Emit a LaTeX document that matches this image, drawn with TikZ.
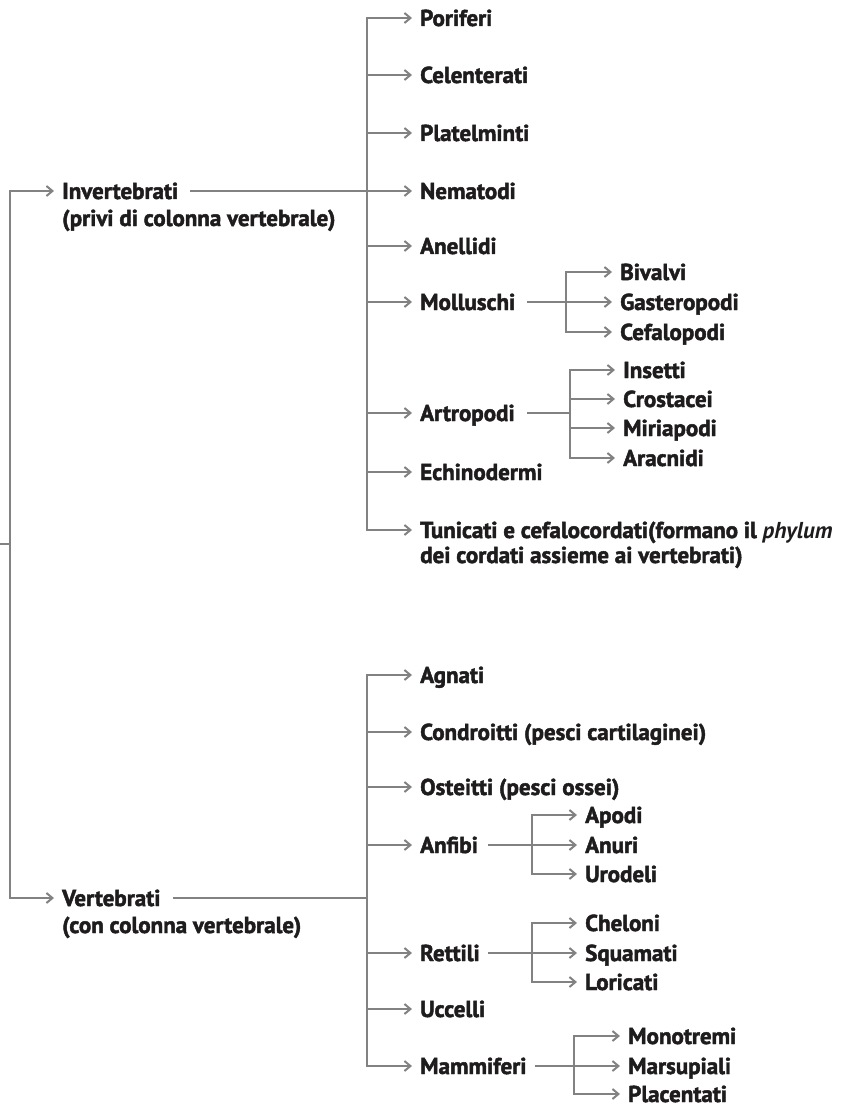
\documentclass[tikz,border=0pt]{standalone}
\usepackage{fontspec}
\setmainfont[BoldFeatures={FakeBold=2}]{PT Sans}
\usetikzlibrary{arrows.meta, positioning}
\definecolor{linkgray}{RGB}{130, 130, 130}
\definecolor{labelink}{RGB}{30, 28, 28}

\begin{document}
\begin{tikzpicture}[x=1pt, y=-1pt,
  taxon/.style={anchor=west, inner sep=0pt, text=labelink, font=\fontsize{23}{28}\selectfont\bfseries, text height=16pt, text depth=0pt},
  branch/.style={draw=linkgray, line width=2.8pt},
  trunk/.style={branch, line cap=rect},
  twig/.style={branch, -{Straight Barb[length=6pt, width=10pt, line width=2pt]}, shorten >=8pt}
]
  \useasboundingbox (0, 0) rectangle (841, 1115);

  % trunk positions
  \coordinate (root) at (0, 544);
  \coordinate (tL) at (10, 0);
  \coordinate (tI) at (367, 0);
  \coordinate (tV) at (367, 0);
  \coordinate (tMol) at (566, 0);
  \coordinate (tArt) at (570, 0);
  \coordinate (tAnf) at (532, 0);
  \coordinate (tRet) at (532, 0);
  \coordinate (tMam) at (574, 0);

  % Invertebrati
  \node[taxon] (inv) at (62, 191) {Invertebrati};
  \node[taxon] (invnote) at (62, 218) {(privi di colonna vertebrale)};
  \node[taxon] (por) at (420, 18) {Poriferi};
  \node[taxon] (cel) at (420, 75) {Celenterati};
  \node[taxon] (pla) at (420, 133) {Platelminti};
  \node[taxon] (nem) at (420, 191) {Nematodi};
  \node[taxon] (ane) at (420, 246) {Anellidi};
  \node[taxon] (mol) at (420, 302) {Molluschi};
  \node[taxon] (art) at (420, 413) {Artropodi};
  \node[taxon] (ech) at (420, 472) {Echinodermi};
  \node[taxon] (tun) at (420, 530) {Tunicati e cefalocordati(formano il \textit{phylum}};
  \node[taxon] (tunnote) at (420, 555) {dei cordati assieme ai vertebrati)};

  \node[taxon] (biv) at (620, 272) {Bivalvi};
  \node[taxon] (gas) at (620, 302) {Gasteropodi};
  \node[taxon] (cef) at (620, 332) {Cefalopodi};

  \node[taxon] (ins) at (623, 370) {Insetti};
  \node[taxon] (cro) at (623, 399) {Crostacei};
  \node[taxon] (mir) at (623, 428) {Miriapodi};
  \node[taxon] (ara) at (623, 458) {Aracnidi};

  % Vertebrati
  \node[taxon] (ver) at (62, 898) {Vertebrati};
  \node[taxon] (vernote) at (62, 925) {(con colonna vertebrale)};
  \node[taxon] (agn) at (420, 675) {Agnati};
  \node[taxon] (con) at (420, 732) {Condroitti (pesci cartilaginei)};
  \node[taxon] (ost) at (420, 787) {Osteitti (pesci ossei)};
  \node[taxon] (anf) at (420, 845) {Anfibi};
  \node[taxon] (ret) at (420, 953) {Rettili};
  \node[taxon] (ucc) at (420, 1009) {Uccelli};
  \node[taxon] (mam) at (420, 1066) {Mammiferi};

  \node[taxon] (apo) at (585, 815) {Apodi};
  \node[taxon] (anu) at (585, 845) {Anuri};
  \node[taxon] (uro) at (585, 874) {Urodeli};

  \node[taxon] (che) at (585, 923) {Cheloni};
  \node[taxon] (squ) at (585, 953) {Squamati};
  \node[taxon] (lor) at (585, 982) {Loricati};

  \node[taxon] (mon) at (628, 1036) {Monotremi};
  \node[taxon] (mar) at (628, 1066) {Marsupiali};
  \node[taxon] (plc) at (628, 1094) {Placentati};

  % root split
  \draw[branch] (root) -- (tL |- root);
  \draw[trunk] (tL |- inv.west) -- (tL |- ver.west);
  \draw[twig] (tL |- inv.west) -- (inv.west);
  \draw[twig] (tL |- ver.west) -- (ver.west);

  % invertebrate branches
  \draw[branch] ([xshift=12pt]inv.east) -- (tI |- inv.east);
  \draw[trunk] (tI |- por.west) -- (tI |- tun.west);
  \foreach \n in {por, cel, pla, nem, ane, mol, art, ech, tun}
    \draw[twig] (tI |- \n.west) -- (\n.west);

  \draw[branch] ([xshift=12pt]mol.east) -- (tMol |- mol.east);
  \draw[trunk] (tMol |- biv.west) -- (tMol |- cef.west);
  \foreach \n in {biv, gas, cef}
    \draw[twig] (tMol |- \n.west) -- (\n.west);

  \draw[branch] ([xshift=12pt]art.east) -- (tArt |- art.east);
  \draw[trunk] (tArt |- ins.west) -- (tArt |- ara.west);
  \foreach \n in {ins, cro, mir, ara}
    \draw[twig] (tArt |- \n.west) -- (\n.west);

  % vertebrate branches
  \draw[branch] ([xshift=12pt]ver.east) -- (tV |- ver.east);
  \draw[trunk] (tV |- agn.west) -- (tV |- mam.west);
  \foreach \n in {agn, con, ost, anf, ret, ucc, mam}
    \draw[twig] (tV |- \n.west) -- (\n.west);

  \draw[branch] ([xshift=10pt]anf.east) -- (tAnf |- anf.east);
  \draw[trunk] (tAnf |- apo.west) -- (tAnf |- uro.west);
  \foreach \n in {apo, anu, uro}
    \draw[twig] (tAnf |- \n.west) -- (\n.west);

  \draw[branch] ([xshift=8pt]ret.east) -- (tRet |- ret.east);
  \draw[trunk] (tRet |- che.west) -- (tRet |- lor.west);
  \foreach \n in {che, squ, lor}
    \draw[twig] (tRet |- \n.west) -- (\n.west);

  \draw[branch] ([xshift=8pt]mam.east) -- (tMam |- mam.east);
  \draw[trunk] (tMam |- mon.west) -- (tMam |- plc.west);
  \foreach \n in {mon, mar, plc}
    \draw[twig] (tMam |- \n.west) -- (\n.west);
\end{tikzpicture}
\end{document}
